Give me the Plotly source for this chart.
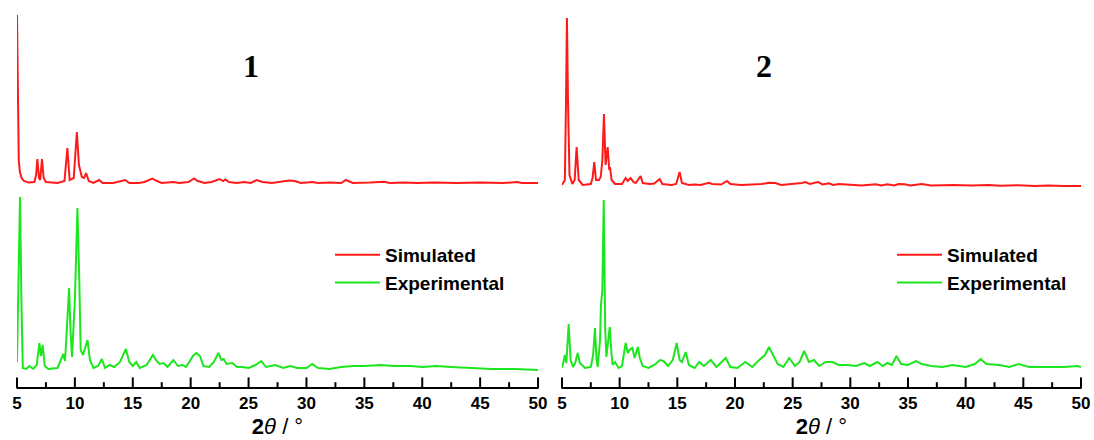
import plotly.graph_objects as go

# ---------------- data (2θ in degrees, intensity in a.u., stacked) ----------------
sim1_x = [5.00, 5.04, 5.08, 5.15, 5.25, 5.4, 5.6, 6.0, 6.5, 6.65, 6.76, 6.9, 7.0, 7.16, 7.3, 7.5, 8.5,
          9.1, 9.35, 9.55, 9.9, 10.17, 10.35, 10.45, 10.6, 10.8, 10.97, 11.2, 11.6, 12.1, 12.4, 13.3,
          14.35, 14.7, 15.5, 16.0, 16.7, 17.0, 17.5, 18.5, 19.0, 19.8, 20.1, 20.3, 20.6, 21.2, 21.8,
          22.2, 22.5, 22.8, 23.0, 23.3, 24.0, 24.6, 25.2, 25.7, 26.2, 27.0, 28.0, 28.5, 29.0, 29.5,
          30.5, 31.0, 32.0, 33.0, 33.4, 34.0, 35.5, 36.7, 37.2, 38.5, 39.5, 41.0, 43.0, 45.0, 47.0,
          48.2, 48.6, 50.0]
sim1_y = [372, 327, 252, 227, 215, 209, 206, 204.5, 205, 212, 228, 209, 207, 228, 209, 205, 204,
          206, 239, 207, 209, 255, 222, 217, 210, 209, 214, 206, 204, 207, 204, 204,
          207, 204, 204, 205, 208.5, 206.5, 204, 205, 204, 205, 207, 208.5, 206, 204, 205,
          207, 208, 206, 207.5, 205, 204, 205, 204, 207, 205, 204, 206, 206.5, 206, 204,
          205, 204, 204.5, 204, 207, 204, 204.5, 205.3, 204, 204.5, 204, 204.5, 204, 204.5, 204,
          205, 204, 204]

exp1_x = [5.00, 5.1, 5.26, 5.38, 5.5, 5.8, 6.07, 6.4, 6.7, 6.93, 7.08, 7.22, 7.4, 7.7, 8.5, 9.0,
          9.15, 9.3, 9.5, 9.62, 9.75, 10.0, 10.22, 10.38, 10.5, 10.7, 11.09, 11.3, 11.6, 12.0, 12.33,
          12.6, 13.0, 13.4, 13.9, 14.4, 14.7, 15.0, 15.3, 15.6, 16.2, 16.74, 17.0, 17.3, 17.66, 18.0,
          18.5, 18.9, 19.3, 19.6, 20.2, 20.5, 20.8, 21.1, 21.6, 22.0, 22.4, 22.65, 22.85, 23.1, 23.6,
          24.0, 24.45, 25.0, 25.6, 26.1, 26.5, 27.3, 28.0, 28.6, 29.2, 30.0, 30.5, 31.0, 32.0, 33.0,
          34.0, 35.0, 36.4, 37.5, 39.0, 40.0, 41.2, 42.5, 44.0, 45.0, 46.0, 48.0, 50.0]
exp1_y = [25, 97, 190, 87, 19, 18, 21, 18, 22, 44, 31, 42, 21, 18, 19, 33,
          26, 57, 99, 57, 30, 87, 179, 107, 37, 32, 47, 27, 19, 21, 28,
          19, 22, 20, 25, 38, 25, 21, 25, 19, 22, 32, 27, 23, 24, 20,
          27, 21, 22, 20, 31, 34, 31, 21, 20, 25, 34, 27, 28, 23, 24,
          20, 20, 19, 22, 26, 20, 22, 19, 21, 19, 19, 23, 19, 18, 20,
          21, 21, 22, 21, 21, 20, 21, 20, 19, 19, 18, 18, 17]

sim2_x = [5.00, 5.25, 5.35, 5.43, 5.52, 5.65, 5.9, 6.1, 6.27, 6.45, 6.8, 7.5, 7.65, 7.8, 7.95, 8.2,
          8.36, 8.5, 8.64, 8.78, 8.96, 9.1, 9.16, 9.3, 9.6, 10.2, 10.52, 10.7, 10.95, 11.2, 11.4,
          11.82, 12.0, 12.6, 13.0, 13.47, 13.7, 14.5, 14.9, 15.2, 15.4, 16.0, 16.5, 17.0, 17.75, 18.0,
          18.8, 19.3, 19.6, 20.5, 21.5, 22.3, 22.95, 23.5, 24.0, 25.0, 25.8, 26.1, 26.5, 27.2, 27.6,
          28.16, 28.5, 29.0, 30.0, 31.0, 32.2, 32.7, 33.2, 33.8, 34.2, 34.7, 35.2, 36.2, 37.0, 39.0,
          40.5, 42.0, 43.0, 44.5, 46.0, 47.2, 48.5, 50.0]
sim2_y = [202, 207, 287, 369, 287, 212, 203, 207, 240, 207, 202, 203, 209, 225, 207, 207,
          210, 227, 273, 222, 240, 217, 220, 207, 203, 203, 209, 206, 209, 205, 204,
          211, 204, 203, 203.5, 208, 203, 202, 203, 215, 204, 202, 202.5, 202, 204.3, 203,
          202.5, 206, 203, 202, 202.5, 203, 204.3, 204, 202, 203, 204, 205, 203, 205, 202.5,
          203.7, 202, 203, 202, 201.5, 202.7, 201.5, 202.7, 201.5, 203, 202.7, 201.5, 203, 201.5, 202,
          201.5, 202, 201.3, 201.7, 201, 201.5, 201, 201]

exp2_x = [5.00, 5.15, 5.26, 5.38, 5.58, 5.75, 5.96, 6.15, 6.36, 6.55, 7.0, 7.5, 7.7, 7.86, 8.0, 8.1,
          8.3, 8.38, 8.5, 8.62, 8.75, 8.85, 9.14, 9.3, 9.4, 9.6, 9.9, 10.2, 10.52, 10.7, 10.85,
          11.1, 11.3, 11.57, 11.75, 12.0, 12.5, 13.0, 13.5, 13.8, 14.2, 14.6, 14.95, 15.2, 15.4, 15.73,
          16.0, 16.5, 16.9, 17.3, 17.9, 18.4, 19.2, 19.6, 20.2, 20.9, 21.5, 22.1, 22.6, 22.95, 23.3,
          23.7, 24.2, 24.7, 25.2, 25.6, 26.0, 26.4, 26.85, 27.3, 27.87, 28.45, 29.0, 29.75, 30.5, 31.2,
          31.7, 32.35, 32.8, 33.2, 33.6, 34.0, 34.4, 35.0, 35.7, 36.2, 37.0, 38.0, 38.85, 40.0, 40.8,
          41.3, 41.8, 42.9, 43.8, 44.6, 45.5, 47.0, 48.5, 49.7, 50.0]
exp2_y = [19, 25, 32, 24, 63, 27, 20, 24, 34, 24, 19, 20, 32, 59, 27, 20,
          47, 82, 97, 187, 57, 30, 60, 32, 22, 25, 19, 21, 44, 34, 37,
          39, 29, 40, 29, 21, 19, 22, 27, 26, 21, 27, 44, 27, 25, 35,
          22, 19, 25, 21, 27, 20, 29, 20, 19, 25, 20, 27, 32, 40, 32,
          23, 20, 29, 21, 25, 36, 25, 27, 21, 25, 25, 22, 22, 21, 24,
          21, 25, 21, 24, 22, 31, 23, 22, 26, 23, 21, 20, 22, 20, 23,
          28, 23, 22, 20, 23, 20, 20, 20, 21, 20]

tick_vals = [5, 10, 15, 20, 25, 30, 35, 40, 45, 50]
minor_tick_vals = [7.5, 12.5, 17.5, 22.5, 27.5, 32.5, 37.5, 42.5, 47.5]
panel_titles = ["1", "2"]
series_names = ["Simulated", "Experimental"]

RED = "#ff1a1a"
GREEN = "#1ee61e"
X_RANGE = [5, 50]
Y_RANGE = [0, 382]          # plot area is 382 px tall, so 1 unit = 1 px
MAJOR_LEN, MINOR_LEN = 8, 4

fig = go.Figure()

fig.add_trace(go.Scatter(x=sim1_x, y=sim1_y, mode="lines", name=series_names[0],
                         line=dict(color=RED, width=2), xaxis="x", yaxis="y", legend="legend"))
fig.add_trace(go.Scatter(x=exp1_x, y=exp1_y, mode="lines", name=series_names[1],
                         line=dict(color=GREEN, width=2), xaxis="x", yaxis="y", legend="legend"))
fig.add_trace(go.Scatter(x=sim2_x, y=sim2_y, mode="lines", name=series_names[0],
                         line=dict(color=RED, width=2), xaxis="x2", yaxis="y2", legend="legend2"))
fig.add_trace(go.Scatter(x=exp2_x, y=exp2_y, mode="lines", name=series_names[1],
                         line=dict(color=GREEN, width=2), xaxis="x2", yaxis="y2", legend="legend2"))

# inward tick marks drawn as vertical line markers sitting on the axis line
for xa, ya in (("x", "y"), ("x2", "y2")):
    for vals, length in ((tick_vals, MAJOR_LEN), (minor_tick_vals, MINOR_LEN)):
        fig.add_trace(go.Scatter(
            x=vals, y=[length / 2] * len(vals), mode="markers", xaxis=xa, yaxis=ya,
            marker=dict(symbol="line-ns", size=length, color="black",
                        line=dict(color="black", width=2)),
            showlegend=False, hoverinfo="skip", cliponaxis=False))

axis_font = dict(family="Liberation Sans, Arial, sans-serif", size=17, color="black", weight="bold")
title_text = "<b>2</b><i>θ</i> / °"

def xaxis_cfg(domain, anchor):
    return dict(
        domain=domain, anchor=anchor, range=X_RANGE,
        tickmode="array", tickvals=tick_vals, ticks="",
        showline=True, linewidth=1.5, linecolor="black",
        showgrid=False, zeroline=False,
        tickfont=axis_font,
        title=dict(text=title_text, standoff=6,
                   font=dict(family="Liberation Sans, Arial, sans-serif", size=22, color="black")),
    )

def yaxis_cfg(anchor):
    return dict(range=Y_RANGE, visible=False, anchor=anchor)

legend_font = dict(family="Liberation Sans, Arial, sans-serif", size=19, color="black", weight="bold")

fig.update_layout(
    width=1094, height=440,
    margin=dict(l=17, r=13, t=5, b=53),
    paper_bgcolor="white", plot_bgcolor="white",
    showlegend=True,
    xaxis=xaxis_cfg([0, 0.4897], "y"),
    yaxis=yaxis_cfg("x"),
    xaxis2=xaxis_cfg([0.5122, 1.0], "y2"),
    yaxis2=yaxis_cfg("x2"),
    legend=dict(x=(330 - 17) / 1064, y=(387 - 236) / 382, xanchor="left", yanchor="top",
                font=legend_font, bgcolor="rgba(0,0,0,0)", borderwidth=0, itemwidth=45,
                tracegroupgap=0),
    legend2=dict(x=(892 - 17) / 1064, y=(387 - 236) / 382, xanchor="left", yanchor="top",
                 font=legend_font, bgcolor="rgba(0,0,0,0)", borderwidth=0, itemwidth=45,
                 tracegroupgap=0),
    annotations=[
        dict(text="<b>" + panel_titles[0] + "</b>", x=25.25, xref="x", y=(387 - 46) / 382, yref="paper",
             showarrow=False, font=dict(family="Liberation Serif, Times New Roman, serif", size=32, color="black")),
        dict(text="<b>" + panel_titles[1] + "</b>", x=22.5, xref="x2", y=(387 - 46) / 382, yref="paper",
             showarrow=False, font=dict(family="Liberation Serif, Times New Roman, serif", size=32, color="black")),
    ],
)

fig.write_html("out.html")
